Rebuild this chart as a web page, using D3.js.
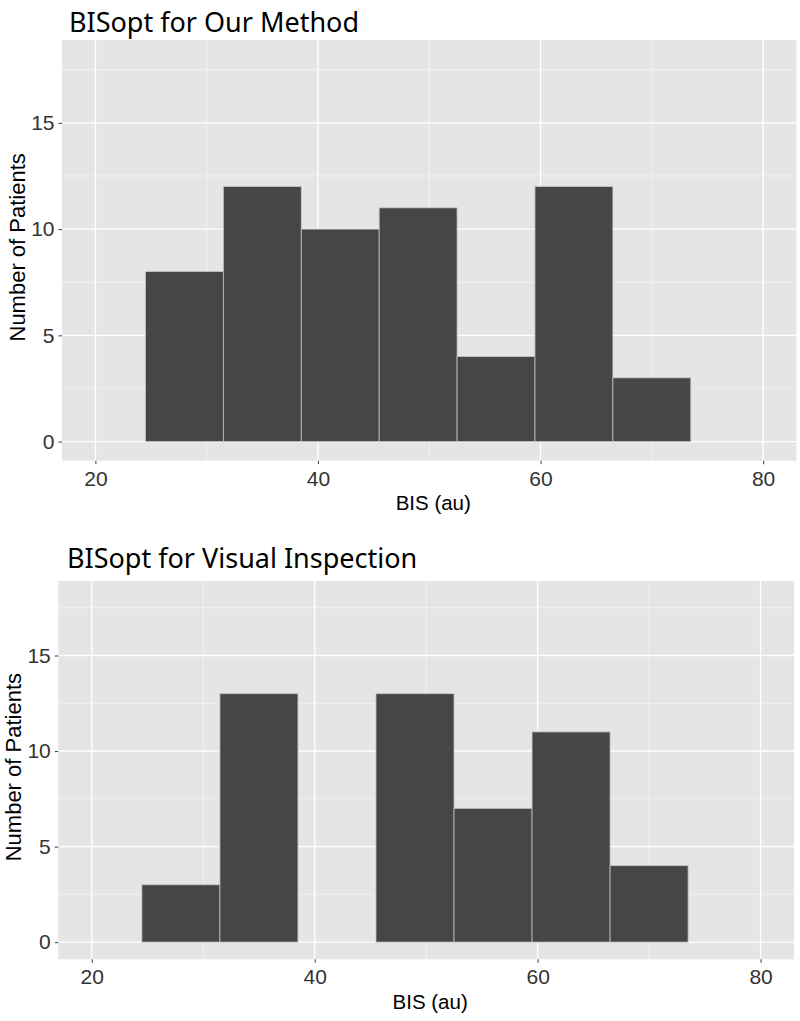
<!DOCTYPE html>
<html>
<head>
<meta charset="utf-8">
<script src="https://cdn.jsdelivr.net/npm/d3@7"></script>
<style>
  body { margin: 0; background: #fff; }
  svg { display: block; }
</style>
</head>
<body>
<svg width="800" height="1021"></svg>
<script>
// histogram bins (BIS, au) and patient counts
const binStarts = [24.5, 31.5, 38.5, 45.5, 52.5, 59.5, 66.5];
const binWidth = 7;
const countsOurMethod = [8, 12, 10, 11, 4, 12, 3];
const countsVisual = [3, 13, 0, 13, 7, 11, 4];
const xTicks = [20, 40, 60, 80];
const xMinor = [30, 50, 70];
const yTicks = [0, 5, 10, 15];
const yMinor = [2.5, 7.5, 12.5, 17.5];

const svg = d3.select("svg");

const panels = [
    { title: "BISopt for Our Method", counts: countsOurMethod,
      left: 62, right: 796.5, top: 40, bottom: 460.7, titleX: 69, titleY: 32 },
    { title: "BISopt for Visual Inspection", counts: countsVisual,
      left: 58.3, right: 794, top: 581, bottom: 959.3, titleX: 67, titleY: 568 }
];

panels.forEach(p => {
    const x = d3.scaleLinear().domain([17, 83]).range([p.left, p.right]);
    const y = d3.scaleLinear().domain([-0.9, 18.9]).range([p.bottom, p.top]);
    const g = svg.append("g");

    g.append("rect")
        .attr("x", p.left).attr("y", p.top)
        .attr("width", p.right - p.left).attr("height", p.bottom - p.top)
        .attr("fill", "#e5e5e5");

    // grid
    g.selectAll(".ymin").data(yMinor).enter().append("line")
        .attr("x1", p.left).attr("x2", p.right)
        .attr("y1", d => y(d)).attr("y2", d => y(d))
        .attr("stroke", "#f4f4f4").attr("stroke-width", 0.8);
    g.selectAll(".xmin").data(xMinor).enter().append("line")
        .attr("y1", p.top).attr("y2", p.bottom)
        .attr("x1", d => x(d)).attr("x2", d => x(d))
        .attr("stroke", "#f4f4f4").attr("stroke-width", 0.8);
    g.selectAll(".ymaj").data(yTicks).enter().append("line")
        .attr("x1", p.left).attr("x2", p.right)
        .attr("y1", d => y(d)).attr("y2", d => y(d))
        .attr("stroke", "#fff").attr("stroke-width", 1.4);
    g.selectAll(".xmaj").data(xTicks).enter().append("line")
        .attr("y1", p.top).attr("y2", p.bottom)
        .attr("x1", d => x(d)).attr("x2", d => x(d))
        .attr("stroke", "#fff").attr("stroke-width", 1.4);

    // bars
    g.selectAll(".bar").data(binStarts.map((b, i) => ({ b, n: p.counts[i] })).filter(d => d.n > 0))
        .enter().append("rect")
        .attr("x", d => x(d.b))
        .attr("width", d => x(d.b + binWidth) - x(d.b))
        .attr("y", d => y(d.n))
        .attr("height", d => y(0) - y(d.n))
        .attr("fill", "#464646")
        .attr("stroke", "#c4c4c4")
        .attr("stroke-width", 0.8);

    // axes
    const xAxis = g.append("g")
        .attr("transform", `translate(0,${p.bottom})`)
        .call(d3.axisBottom(x).tickValues(xTicks).tickSize(3.5).tickPadding(4));
    const yAxis = g.append("g")
        .attr("transform", `translate(${p.left},0)`)
        .call(d3.axisLeft(y).tickValues(yTicks).tickSize(3.5).tickPadding(4));
    [xAxis, yAxis].forEach(a => {
        a.select(".domain").remove();
        a.selectAll(".tick line").attr("stroke", "#4d4d4d").attr("stroke-width", 1.1);
        a.selectAll(".tick text")
            .attr("fill", "#333")
            .style("font-family", "Liberation Sans, Arial, sans-serif")
            .style("font-size", "21px");
    });
    xAxis.selectAll(".tick text").attr("dy", null).attr("y", 25).attr("dominant-baseline", "auto");

    g.append("text")
        .attr("x", (p.left + p.right) / 2 + 4)
        .attr("y", p.bottom + 49.5)
        .attr("text-anchor", "middle")
        .style("font-family", "Liberation Sans, Arial, sans-serif")
        .style("font-size", "20.5px")
        .attr("fill", "#000")
        .text("BIS (au)");

    g.append("text")
        .attr("transform", `translate(${p.left - 37},${(p.top + p.bottom) / 2 - 3}) rotate(-90)`)
        .attr("text-anchor", "middle")
        .style("font-family", "Liberation Sans, Arial, sans-serif")
        .style("font-size", "22px")
        .attr("fill", "#000")
        .text("Number of Patients");

    g.append("text")
        .attr("x", p.titleX)
        .attr("y", p.titleY)
        .style("font-family", "Noto Sans, sans-serif")
        .style("font-size", "27px")
        .attr("fill", "#000")
        .text(p.title);
});
</script>
</body>
</html>
